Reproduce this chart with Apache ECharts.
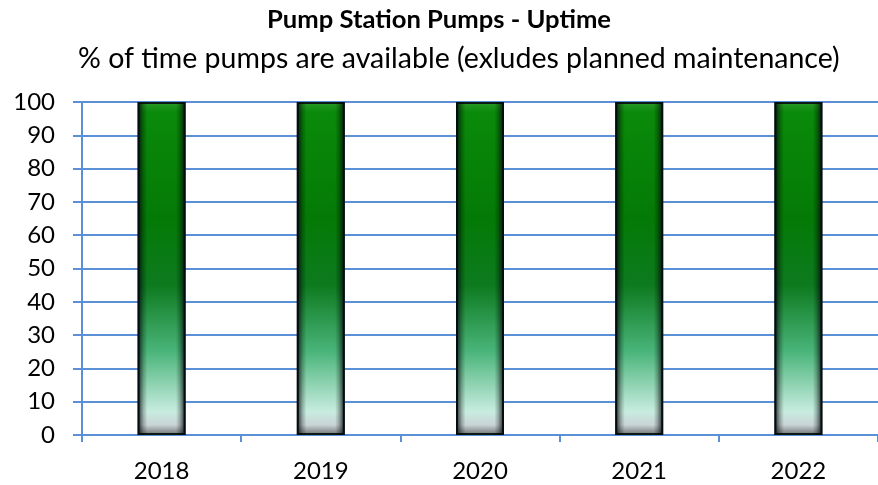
<!DOCTYPE html>
<html><head><meta charset="utf-8">
<script src="https://cdn.jsdelivr.net/npm/echarts@6/dist/echarts.min.js"></script>
<style>html,body{margin:0;padding:0;background:#fff}#c{width:878px;height:485px}</style>
</head><body><div id="c"></div>
<script>
const years = ['2018','2019','2020','2021','2022'];
const uptime = [100, 100, 100, 100, 100];
const yTicks = [0,10,20,30,40,50,60,70,80,90,100];

const FONT = 'Lato, "Open Sans", sans-serif';
const blue = '#5b8fd6';
const chart = echarts.init(document.getElementById('c'), null, {renderer:'canvas'});
chart.setOption({
  animation:false,
  title:[
    {text:'Pump Station Pumps - Uptime', left:'center', top:2,
     textStyle:{fontFamily:FONT, fontSize:25.6, fontWeight:'bold', color:'#000'}},
    {text:'% of time pumps are available (exludes planned maintenance)', left:73, top:39,
     textStyle:{fontFamily:FONT, fontSize:28.5, fontWeight:'normal', color:'#000'}}
  ],
  grid:{left:82, top:102, width:801, height:333, containLabel:false},
  xAxis:{type:'category', data:years,
    axisLine:{lineStyle:{color:blue, width:2}},
    axisTick:{show:true, length:7, lineStyle:{color:blue, width:2}},
    axisLabel:{fontFamily:FONT, fontSize:24, color:'#000', margin:24}},
  yAxis:{type:'value', min:0, max:100, interval:10,
    axisLine:{show:true, lineStyle:{color:blue, width:2}},
    axisTick:{show:true, length:9, lineStyle:{color:blue, width:2}},
    splitLine:{lineStyle:{color:blue, width:2}},
    axisLabel:{fontFamily:FONT, fontSize:24, color:'#000', margin:27,
      formatter:v=> yTicks.includes(v) ? String(v) : ''}},
  series:[
    {type:'bar', data:uptime, barWidth:48,
     itemStyle:{borderColor:'#0b1a12', borderWidth:2,
       color:new echarts.graphic.LinearGradient(0,0,0,1,[
        {offset:0,color:'#2a9a2a'},{offset:0.03,color:'#0a8a0a'},{offset:0.35,color:'#047a06'},
        {offset:0.55,color:'#0d7a1f'},{offset:0.75,color:'#4ab57a'},{offset:0.93,color:'#c8ecdf'},
        {offset:0.97,color:'#c9d3d6'},{offset:1,color:'#6a7071'}])}},
    {type:'bar', data:uptime, barWidth:48, barGap:'-100%', silent:true,
     itemStyle:{color:new echarts.graphic.LinearGradient(0,0,1,0,[
        {offset:0,color:'rgba(0,10,20,0.85)'},{offset:0.12,color:'rgba(0,0,0,0.25)'},
        {offset:0.2,color:'rgba(0,0,0,0)'},{offset:0.8,color:'rgba(0,0,0,0)'},
        {offset:0.88,color:'rgba(0,0,0,0.25)'},{offset:1,color:'rgba(0,10,20,0.85)'}])}}
  ]
});
</script></body></html>
